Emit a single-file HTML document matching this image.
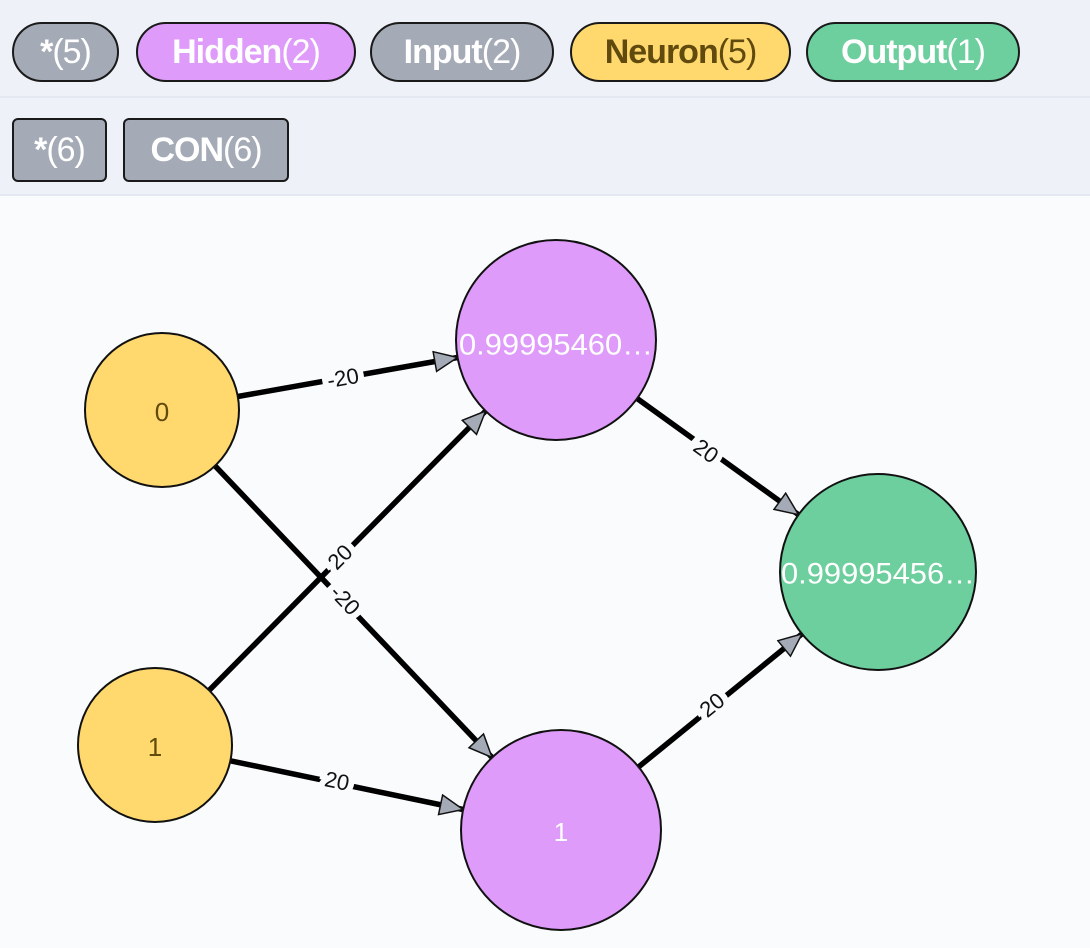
<!DOCTYPE html>
<html><head><meta charset="utf-8"><style>
html,body{margin:0;padding:0;width:1090px;height:948px;overflow:hidden;background:#f9fbfd;font-family:"Liberation Sans",sans-serif}
.bar{position:absolute;left:0;width:1090px;background:#eef1f8;border-bottom:2px solid #e4e8f0}
.p{position:absolute;box-sizing:border-box;border:2.5px solid #1a1a1a;color:#fff;font-size:34px;display:flex;align-items:center;justify-content:center;letter-spacing:-1px}
.p b{font-weight:bold}
.r{border-radius:30px;top:22px;height:60px}
.s{border-radius:6px;top:118px;height:64px}
</style></head><body>
<div class="bar" style="top:0;height:96px"></div>
<div class="bar" style="top:98px;height:96px"></div>
<div class="p r" style="left:12px;width:107px;background:#a5abb6"><b>*</b>(5)</div>
<div class="p r" style="left:136px;width:220px;background:#de9bf9"><b>Hidden</b>(2)</div>
<div class="p r" style="left:370px;width:184px;background:#a5abb6"><b>Input</b>(2)</div>
<div class="p r" style="left:570px;width:221px;background:#ffd86e;color:#604a0e"><b>Neuron</b>(5)</div>
<div class="p r" style="left:806px;width:214px;background:#6dce9e"><b>Output</b>(1)</div>
<div class="p s" style="left:12px;width:95px;background:#a5abb6"><b>*</b>(6)</div>
<div class="p s" style="left:123px;width:166px;background:#a5abb6"><b>CON</b>(6)</div>
<svg width="1090" height="948" style="position:absolute;left:0;top:0" font-family="Liberation Sans, sans-serif">
<defs><marker id="a" markerUnits="userSpaceOnUse" markerWidth="30" markerHeight="30" refX="24" refY="11" orient="auto"><path d="M1,1 L24,11 L1,21 Z" fill="#a5abb6" stroke="#111" stroke-width="1.5"/></marker></defs>
<g stroke="#000" stroke-width="5.5" marker-end="url(#a)">
<line x1="237.8" y1="396.5" x2="457.5" y2="357.5"/>
<line x1="215" y1="465.8" x2="492.1" y2="757.5"/>
<line x1="209.2" y1="690.3" x2="485.6" y2="411"/>
<line x1="230.4" y1="760.8" x2="463.1" y2="809.5"/>
<line x1="637.1" y1="398.5" x2="798.5" y2="514.7"/>
<line x1="638.6" y1="766.9" x2="802" y2="633.9"/>
</g>
<g font-size="22" text-anchor="middle" fill="#111" stroke="#f9fbfd" stroke-width="12" paint-order="stroke" dominant-baseline="central">
<text transform="translate(343,378) rotate(-10.1)">-20</text>
<text transform="translate(345,600) rotate(46.5)">-20</text>
<text transform="translate(340,557) rotate(-45.3)">20</text>
<text transform="translate(337,781) rotate(11.8)">20</text>
<text transform="translate(706,451) rotate(35.8)">20</text>
<text transform="translate(712,705) rotate(-39.1)">20</text>
</g>
<g stroke="#111" stroke-width="2">
<circle cx="162" cy="410" r="77" fill="#ffd86e"/>
<circle cx="155" cy="745" r="77" fill="#ffd86e"/>
<circle cx="556" cy="340" r="100" fill="#de9bf9"/>
<circle cx="561" cy="830" r="100" fill="#de9bf9"/>
<circle cx="878" cy="572" r="98" fill="#6dce9e"/>
</g>
<g font-size="26" text-anchor="middle" dominant-baseline="central">
<text x="162" y="412" fill="#604a0e">0</text>
<text x="155" y="747" fill="#604a0e">1</text>
<text x="561" y="832" fill="#fff">1</text>
</g>
<g font-size="30" text-anchor="middle" dominant-baseline="central" fill="#fff">
<text x="556" y="345" textLength="194" lengthAdjust="spacingAndGlyphs">0.99995460…</text>
<text x="878" y="574" textLength="194" lengthAdjust="spacingAndGlyphs">0.99995456…</text>
</g>
</svg>
</body></html>
